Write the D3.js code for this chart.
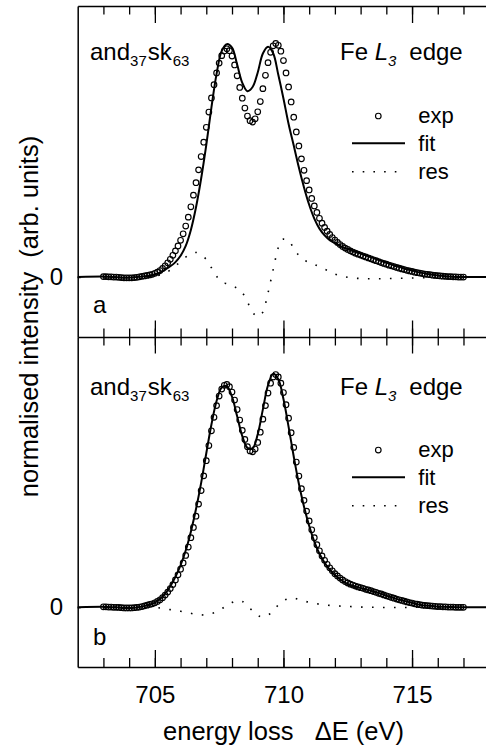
<!DOCTYPE html>
<html><head><meta charset="utf-8">
<script src="https://cdn.jsdelivr.net/npm/d3@7"></script>
<style>
html,body{margin:0;padding:0;background:#fff;}
svg{display:block;}
text{font-family:"Liberation Sans",Arial,Helvetica,sans-serif;fill:#000;}
</style></head><body>
<svg id="chart" width="486" height="754"></svg>
<script>
// energy grid of the experimental spectrum (eV)
const expE=[703.0,703.1,703.2,703.3,703.4,703.5,703.6,703.7,703.8,703.9,
704.0,704.1,704.2,704.3,704.4,704.5,704.6,704.7,704.8,704.9,
705.0,705.1,705.2,705.3,705.4,705.5,705.6,705.7,705.8,705.9,
706.0,706.1,706.2,706.3,706.4,706.5,706.6,706.7,706.8,706.9,
707.0,707.1,707.2,707.3,707.4,707.5,707.6,707.7,707.8,707.9,
708.0,708.1,708.2,708.3,708.4,708.5,708.6,708.7,708.8,708.9,
709.0,709.1,709.2,709.3,709.4,709.5,709.6,709.7,709.8,709.9,
710.0,710.1,710.2,710.3,710.4,710.5,710.6,710.7,710.8,710.9,
711.0,711.1,711.2,711.3,711.4,711.5,711.6,711.7,711.8,711.9,
712.0,712.1,712.2,712.3,712.4,712.5,712.6,712.7,712.8,712.9,
713.0,713.1,713.2,713.3,713.4,713.5,713.6,713.7,713.8,713.9,
714.0,714.1,714.2,714.3,714.4,714.5,714.6,714.7,714.8,714.9,
715.0,715.1,715.2,715.3,715.4,715.5,715.6,715.7,715.8,715.9,
716.0,716.1,716.2,716.3,716.4,716.5,716.6,716.7,716.8,716.9,
717.0];
// panel a: experimental intensities
const expA=[0.002,0.002,0.001,0.001,0.000,0.000,-0.001,-0.002,-0.003,-0.003,
-0.003,-0.003,-0.002,-0.001,0.001,0.003,0.005,0.007,0.009,0.012,
0.016,0.021,0.028,0.037,0.048,0.061,0.076,0.093,0.112,0.133,
0.157,0.185,0.218,0.256,0.300,0.350,0.403,0.458,0.515,0.576,
0.640,0.705,0.765,0.822,0.872,0.914,0.946,0.966,0.975,0.967,
0.944,0.906,0.860,0.810,0.764,0.722,0.688,0.668,0.662,0.676,
0.706,0.750,0.805,0.862,0.916,0.960,0.988,0.998,0.990,0.965,
0.925,0.872,0.812,0.748,0.683,0.620,0.560,0.505,0.456,0.412,
0.372,0.336,0.304,0.276,0.251,0.230,0.212,0.196,0.182,0.169,
0.158,0.148,0.139,0.131,0.124,0.118,0.112,0.107,0.102,0.098,
0.094,0.090,0.086,0.082,0.078,0.074,0.070,0.066,0.062,0.058,
0.055,0.051,0.048,0.045,0.041,0.038,0.035,0.032,0.029,0.026,
0.024,0.021,0.019,0.017,0.015,0.013,0.011,0.010,0.008,0.007,
0.006,0.005,0.004,0.003,0.002,0.002,0.001,0.001,0.000,0.000,
0.000];
// panel b: experimental intensities
const expB=[0.002,0.002,0.001,0.001,0.000,0.000,-0.001,-0.002,-0.003,-0.003,
-0.003,-0.003,-0.002,-0.001,0.001,0.003,0.006,0.009,0.012,0.015,
0.019,0.025,0.032,0.041,0.052,0.065,0.080,0.097,0.117,0.139,
0.163,0.190,0.222,0.258,0.298,0.342,0.390,0.442,0.500,0.563,
0.628,0.693,0.756,0.814,0.864,0.905,0.935,0.951,0.955,0.945,
0.922,0.888,0.847,0.802,0.758,0.719,0.688,0.670,0.666,0.678,
0.706,0.750,0.806,0.864,0.918,0.960,0.987,0.997,0.987,0.960,
0.920,0.868,0.810,0.748,0.685,0.622,0.562,0.508,0.458,0.412,
0.370,0.332,0.298,0.268,0.242,0.220,0.201,0.184,0.169,0.156,
0.144,0.134,0.125,0.117,0.110,0.104,0.099,0.095,0.091,0.087,
0.084,0.081,0.077,0.074,0.071,0.067,0.064,0.060,0.057,0.053,
0.049,0.046,0.042,0.039,0.035,0.032,0.029,0.026,0.023,0.020,
0.018,0.015,0.013,0.011,0.009,0.008,0.007,0.006,0.005,0.004,
0.003,0.003,0.002,0.002,0.001,0.001,0.001,0.000,0.000,0.000,
0.000];
// energy grid of the fit curves (eV)
const fitE=[702.0,
703.0,703.2,703.4,703.6,703.8,704.0,704.2,704.4,704.6,704.8,
705.0,705.2,705.4,705.6,705.8,706.0,706.2,706.4,706.6,706.8,
707.0,707.2,707.4,707.6,707.8,708.0,708.2,708.4,708.6,708.8,
709.0,709.2,709.4,709.6,709.8,710.0,710.2,710.4,710.6,710.8,
711.0,711.2,711.4,711.6,711.8,712.0,712.2,712.4,712.6,712.8,
713.0,713.2,713.4,713.6,713.8,714.0,714.2,714.4,714.6,714.8,
715.0,715.2,715.4,715.6,715.8,716.0,716.2,716.4,716.6,716.8,
717.0,718.4];
const fitA=[0.000,
0.002,0.001,0.000,-0.001,-0.003,-0.002,-0.001,0.001,0.004,0.007,
0.012,0.019,0.032,0.046,0.064,0.091,0.133,0.201,0.298,0.421,
0.565,0.725,0.868,0.966,0.995,0.980,0.908,0.830,0.794,0.812,
0.874,0.955,0.984,0.956,0.864,0.763,0.654,0.562,0.468,0.383,
0.309,0.250,0.207,0.178,0.158,0.145,0.133,0.123,0.115,0.107,
0.100,0.093,0.085,0.077,0.069,0.061,0.054,0.046,0.040,0.033,
0.028,0.022,0.018,0.013,0.010,0.007,0.005,0.003,0.001,0.000,
0.000,0.000];
const fitB=[0.000,
0.002,0.001,0.000,-0.001,-0.003,-0.003,-0.002,0.001,0.006,0.012,
0.020,0.035,0.058,0.090,0.130,0.180,0.243,0.324,0.421,0.533,
0.660,0.783,0.884,0.942,0.947,0.902,0.818,0.733,0.683,0.681,
0.741,0.848,0.951,1.000,0.977,0.892,0.773,0.646,0.529,0.431,
0.349,0.281,0.229,0.191,0.161,0.138,0.120,0.106,0.096,0.089,
0.083,0.077,0.071,0.064,0.058,0.050,0.043,0.036,0.030,0.024,
0.019,0.013,0.009,0.007,0.005,0.003,0.002,0.001,0.001,0.000,
0.000,0.000];
// energy grid of the residuals (eV)
const resE=[703.0,703.2,703.4,703.6,703.8,704.0,704.2,704.4,704.6,704.8,
705.0,705.2,705.4,705.6,705.8,706.0,706.2,706.4,706.6,706.8,
707.0,707.2,707.4,707.6,707.8,708.0,708.2,708.4,708.6,708.8,
709.0,709.2,709.4,709.6,709.8,710.0,710.2,710.4,710.6,710.8,
711.0,711.2,711.4,711.6,711.8,712.0,712.2,712.4,712.6,712.8,
713.0,713.2,713.4,713.6,713.8,714.0,714.2,714.4,714.6,714.8,
715.0,715.2,715.4,715.6,715.8,716.0,716.2,716.4,716.6,716.8,
717.0];
const resA=[0.000,0.000,0.000,0.000,0.000,-0.001,-0.001,0.000,0.001,0.002,
0.004,0.009,0.016,0.030,0.048,0.066,0.085,0.099,0.105,0.094,
0.075,0.040,0.004,-0.022,-0.028,-0.036,-0.048,-0.066,-0.106,-0.150,
-0.168,-0.150,-0.068,0.032,0.126,0.162,0.158,0.121,0.092,0.073,
0.063,0.054,0.044,0.034,0.024,0.013,0.006,0.001,-0.003,-0.005,
-0.006,-0.007,-0.007,-0.007,-0.007,-0.006,-0.006,-0.005,-0.005,-0.004,
-0.004,-0.003,-0.003,-0.002,-0.002,-0.001,-0.001,-0.001,0.000,0.000,
0.000];
const resB=[0.000,0.000,0.000,0.000,0.000,0.000,0.000,0.000,0.000,0.000,
-0.001,-0.003,-0.006,-0.010,-0.013,-0.017,-0.021,-0.026,-0.031,-0.033,
-0.032,-0.027,-0.020,-0.007,0.008,0.020,0.029,0.025,0.005,-0.015,
-0.035,-0.042,-0.033,-0.018,0.010,0.028,0.037,0.039,0.033,0.027,
0.021,0.017,0.013,0.010,0.008,0.006,0.005,0.004,0.003,0.002,
0.001,0.000,0.000,0.000,-0.001,-0.001,-0.001,-0.001,-0.001,-0.001,
-0.001,0.000,0.000,0.000,0.000,0.000,0.000,0.000,0.000,0.000,
0.000];
const xMinorTicks=[703,704,705,706,707,708,709,710,711,712,713,714,715,716,717,718];
const xMajorTicks=[705,710,715];
const xTickLabels=["705","710","715"];
const yTickValues=[0];
const yTickLabels=["0"];
const panelLetters=["a","b"];
const legendLabels=["exp","fit","res"];

const svg=d3.select("#chart");
const x=d3.scaleLinear().domain([702,718]).range([77.7,489.2]);
const FONT='"Liberation Sans",Arial,Helvetica,sans-serif';

const panels=[
 {top:6,bottom:337,exp:expA,fit:fitA,res:resA,letter:panelLetters[0],
  titleY:60,letterY:313,legCirc:116,legExp:122.5,legFit:143.3,legFitT:151,legRes:171.7,legResT:178.5},
 {top:337,bottom:667,exp:expB,fit:fitB,res:resB,letter:panelLetters[1],
  titleY:395,letterY:645,legCirc:450,legExp:457,legFit:477.3,legFitT:485,legRes:505.7,legResT:512.7}
];

function styleAxis(g,w){
  g.selectAll("path.domain").attr("stroke","#000").attr("stroke-width",w||1.4);
  g.selectAll(".tick line").attr("stroke","#000").attr("stroke-width",1.3);
}

panels.forEach((p,pi)=>{
  const y=d3.scaleLinear().domain([-0.256,1.158]).range([p.bottom,p.top]);
  const g=svg.append("g");

  // residual (dotted)
  const resLine=d3.line().x((d,i)=>x(resE[i])).y(d=>y(d)).curve(d3.curveMonotoneX);
  g.append("path").attr("d",resLine(p.res)).attr("fill","none")
   .attr("stroke","#000").attr("stroke-width",1.6).attr("stroke-dasharray","1.6,9.4");

  // fit (solid)
  const fitLine=d3.line().x((d,i)=>x(fitE[i])).y(d=>y(d)).curve(d3.curveCatmullRom.alpha(0.5));
  g.append("path").attr("d",fitLine(p.fit)).attr("fill","none")
   .attr("stroke","#000").attr("stroke-width",2);

  // experimental points (open circles)
  g.selectAll("circle.exp").data(p.exp).enter().append("circle").attr("class","exp")
   .attr("cx",(d,i)=>x(expE[i])).attr("cy",d=>y(d)).attr("r",2.8)
   .attr("fill","none").attr("stroke","#000").attr("stroke-width",1.15);

  // left axis with the 0 label
  const ya=g.append("g").attr("transform","translate(77.7,0)")
   .call(d3.axisLeft(y).tickValues(yTickValues).tickFormat((d,i)=>yTickLabels[i])
     .tickSizeInner(-3).tickSizeOuter(0).tickPadding(14.5));
  styleAxis(ya,1.5);
  ya.selectAll("text").attr("font-size",24).attr("font-family",FONT).attr("fill","#000");

  // panel letter
  g.append("text").attr("x",93).attr("y",p.letterY).attr("font-size",24).text(p.letter);

  // sample label and_37 sk_63
  const t=g.append("text").attr("x",90).attr("y",p.titleY).attr("font-size",24);
  t.append("tspan").text("and");
  t.append("tspan").attr("font-size",15).attr("dy",6).text("37");
  t.append("tspan").attr("dy",-6).attr("dx",1).text("sk");
  t.append("tspan").attr("font-size",15).attr("dy",6).attr("dx",1).text("63");

  // Fe L3 edge
  const t2=g.append("text").attr("x",340).attr("y",p.titleY).attr("font-size",24);
  t2.append("tspan").text("Fe ");
  t2.append("tspan").attr("font-style","italic").text("L");
  t2.append("tspan").attr("font-style","italic").attr("font-size",15).attr("dy",6).text("3");
  t2.append("tspan").attr("dy",-6).attr("x",409.3).text("edge");

  // legend
  g.append("circle").attr("cx",378.3).attr("cy",p.legCirc).attr("r",2.8)
   .attr("fill","none").attr("stroke","#000").attr("stroke-width",1.15);
  g.append("text").attr("x",418.3).attr("y",p.legExp).attr("font-size",22).text(legendLabels[0]);
  g.append("line").attr("x1",352).attr("x2",405).attr("y1",p.legFit).attr("y2",p.legFit)
   .attr("stroke","#000").attr("stroke-width",2);
  g.append("text").attr("x",418.3).attr("y",p.legFitT).attr("font-size",22).text(legendLabels[1]);
  g.append("line").attr("x1",352).attr("x2",399).attr("y1",p.legRes).attr("y2",p.legRes)
   .attr("stroke","#000").attr("stroke-width",1.6).attr("stroke-dasharray","1.6,9.1");
  g.append("text").attr("x",418.3).attr("y",p.legResT).attr("font-size",22).text(legendLabels[2]);
});

// top frame line with inward ticks
let a=svg.append("g").attr("transform","translate(0,6)")
 .call(d3.axisTop(x).tickValues(xMinorTicks).tickFormat("").tickSizeInner(-8.5).tickSizeOuter(0));
styleAxis(a);
a=svg.append("g").attr("transform","translate(0,6)")
 .call(d3.axisTop(x).tickValues(xMajorTicks).tickFormat("").tickSizeInner(-17).tickSizeOuter(0));
styleAxis(a); a.select("path.domain").remove();

// divider between panels: ticks on both sides
a=svg.append("g").attr("transform","translate(0,337)")
 .call(d3.axisBottom(x).tickValues(xMinorTicks).tickFormat("").tickSizeInner(8.5).tickSizeOuter(0));
styleAxis(a);
a=svg.append("g").attr("transform","translate(0,337)")
 .call(d3.axisTop(x).tickValues(xMinorTicks).tickFormat("").tickSizeInner(8.5).tickSizeOuter(0));
styleAxis(a); a.select("path.domain").remove();
a=svg.append("g").attr("transform","translate(0,337)")
 .call(d3.axisBottom(x).tickValues(xMajorTicks).tickFormat("").tickSizeInner(16.5).tickSizeOuter(0));
styleAxis(a); a.select("path.domain").remove();
a=svg.append("g").attr("transform","translate(0,337)")
 .call(d3.axisTop(x).tickValues(xMajorTicks).tickFormat("").tickSizeInner(16.5).tickSizeOuter(0));
styleAxis(a); a.select("path.domain").remove();

// bottom axis with labels
a=svg.append("g").attr("transform","translate(0,667)")
 .call(d3.axisBottom(x).tickValues(xMinorTicks).tickFormat("").tickSizeInner(-9).tickSizeOuter(0));
styleAxis(a);
a=svg.append("g").attr("transform","translate(0,667)")
 .call(d3.axisBottom(x).tickValues(xMajorTicks).tickFormat((d,i)=>xTickLabels[i])
   .tickSizeInner(-17).tickSizeOuter(0).tickPadding(19));
styleAxis(a); a.select("path.domain").remove();
a.selectAll("text").attr("font-size",24).attr("font-family",FONT).attr("fill","#000");

// axis titles
svg.append("text").attr("x",283.5).attr("y",740).attr("text-anchor","middle")
 .attr("font-size",25.5).style("white-space","pre").text("energy loss   \u0394E (eV)");
svg.append("text").attr("transform","translate(37.7,316.5) rotate(-90)").attr("text-anchor","middle")
 .attr("font-size",25.5).style("white-space","pre").text("normalised intensity  (arb. units)");
</script>
</body></html>
